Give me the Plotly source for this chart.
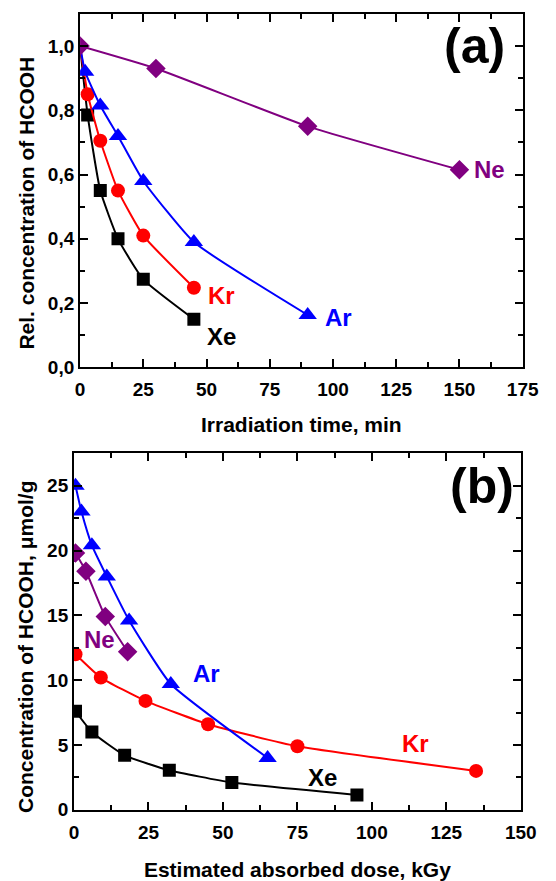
import plotly.graph_objects as go

# ---- panel (a): relative HCOOH concentration vs irradiation time ----
t_ne = [0, 30, 90, 150]
c_ne = [1.0, 0.93, 0.75, 0.615]
t_ar = [0, 2, 8, 15, 25, 45, 90]
c_ar = [1.0, 0.92, 0.815, 0.72, 0.58, 0.39, 0.163]
t_kr = [0, 3, 8, 15, 25, 45]
c_kr = [1.0, 0.85, 0.705, 0.55, 0.41, 0.248]
t_xe = [0, 3, 8, 15, 25, 45]
c_xe = [1.0, 0.785, 0.55, 0.40, 0.274, 0.15]

# ---- panel (b): HCOOH concentration vs absorbed dose ----
d_ne = [0.5, 4, 10.5, 18]
q_ne = [19.8, 18.4, 14.9, 12.2]
d_ar = [0.5, 2.5, 6, 11, 18.5, 32.5, 65]
q_ar = [25.0, 23.0, 20.4, 18.0, 14.6, 9.7, 4.0]
d_kr = [0.5, 9, 24, 45, 75, 135]
q_kr = [12.0, 10.2, 8.4, 6.6, 4.9, 3.0]
d_xe = [0.5, 6, 17, 32, 53, 95]
q_xe = [7.6, 6.0, 4.2, 3.05, 2.1, 1.15]

PURPLE = "#800080"
BLUE = "#0000FF"
RED = "#FF0000"
BLACK = "#000000"
FONT = "Liberation Sans, Arial, sans-serif"

fig = go.Figure()


def series(x, y, color, symbol, size, xa, ya, hide_first=False):
    sizes = [size] * len(x)
    if hide_first:
        sizes[0] = 0
    fig.add_trace(go.Scatter(
        x=x, y=y, mode="lines+markers", xaxis=xa, yaxis=ya,
        line=dict(color=color, width=2, shape="spline", smoothing=0.45),
        marker=dict(color=color, symbol=symbol, size=sizes, opacity=1,
                    line=dict(width=0)),
        showlegend=False,
    ))


# panel (a)
series(t_xe, c_xe, BLACK, "square", 13, "x", "y", hide_first=True)
series(t_kr, c_kr, RED, "circle", 14, "x", "y", hide_first=True)
series(t_ar, c_ar, BLUE, "triangle-up", 16, "x", "y", hide_first=True)
series(t_ne, c_ne, PURPLE, "diamond", 15, "x", "y")

# panel (b)
series(d_xe, q_xe, BLACK, "square", 13, "x2", "y2")
series(d_kr, q_kr, RED, "circle", 14, "x2", "y2")
series(d_ar, q_ar, BLUE, "triangle-up", 16, "x2", "y2")
series(d_ne, q_ne, PURPLE, "diamond", 15, "x2", "y2")

tickfont = dict(family=FONT, size=19, color="black", weight="bold")


def axis(domain, rng, dtick, minor, anchor, fmt=None, standoff=None):
    a = dict(
        domain=domain, range=rng, anchor=anchor,
        showline=True, linecolor="black", linewidth=2, mirror="ticks",
        ticks="inside", ticklen=8, tickwidth=2, tickcolor="black",
        tick0=0, dtick=dtick,
        minor=dict(ticks="inside", ticklen=5, tickwidth=2, tickcolor="black",
                   tick0=0, dtick=minor, showgrid=False),
        showgrid=False, zeroline=False,
        tickfont=tickfont, tickprefix="<b>", ticksuffix="</b>",
    )
    if fmt:
        a["tickformat"] = fmt
    if standoff is not None:
        a["ticklabelstandoff"] = standoff
    return a


fig.update_layout(
    width=556, height=881,
    margin=dict(l=0, r=0, t=0, b=0),
    paper_bgcolor="white", plot_bgcolor="white",
    separators=", ",
    font=dict(family=FONT, color="black"),
    xaxis=axis([0.1403, 0.9676], [0, 175], 25, 12.5, "y", standoff=4),
    yaxis=axis([0.5777, 0.9841], [0, 1.1], 0.2, 0.1, "x", fmt=".1f"),
    xaxis2=axis([0.129, 0.964], [0, 150], 25, 12.5, "y2", standoff=4),
    yaxis2=axis([0.0692, 0.479], [0, 27.5], 5, 2.5, "x2"),
)

fig.update_xaxes(title=dict(text="<b>Irradiation time, min</b>",
                            font=dict(family=FONT, size=21), standoff=18),
                 selector=dict(anchor="y"))
fig.update_xaxes(title=dict(text="<b>Estimated absorbed dose, kGy</b>",
                            font=dict(family=FONT, size=21), standoff=22),
                 selector=dict(anchor="y2"))

ann = []


def label(text, x, y, color, size, xref, yref):
    ann.append(dict(text="<b>%s</b>" % text, x=x, y=y, xref=xref, yref=yref,
                    showarrow=False, font=dict(family=FONT, size=size, color=color),
                    xanchor="center", yanchor="middle"))


# vertical axis titles
ann.append(dict(text="<b>Rel. concentration of HCOOH</b>", x=22 / 556, y=1 - 206 / 881,
                xref="paper", yref="paper", showarrow=False, textangle=-90,
                font=dict(family=FONT, size=21, color="black"),
                xanchor="center", yanchor="middle"))
ann.append(dict(text="<b>Concentration of HCOOH, \u03bcmol/g</b>", x=22 / 556, y=1 - 655 / 881,
                xref="paper", yref="paper", showarrow=False, textangle=-90,
                font=dict(family=FONT, size=21, color="black"),
                xanchor="center", yanchor="middle"))

# series labels, panel (a)
label("Ne", 162, 0.615, PURPLE, 24, "x", "y")
label("Kr", 56, 0.225, RED, 24, "x", "y")
label("Xe", 56, 0.095, BLACK, 24, "x", "y")
label("Ar", 102, 0.155, BLUE, 24, "x", "y")
label("(a)", 156, 1.0, BLACK, 50, "x", "y")

# series labels, panel (b)
label("Ne", 8.5, 13.1, PURPLE, 24, "x2", "y2")
label("Ar", 44.5, 10.5, BLUE, 24, "x2", "y2")
label("Kr", 114.8, 5.1, RED, 24, "x2", "y2")
label("Xe", 83.5, 2.5, BLACK, 24, "x2", "y2")
label("(b)", 137, 25.0, BLACK, 50, "x2", "y2")

fig.update_layout(annotations=ann)

fig.write_html("out.html")
